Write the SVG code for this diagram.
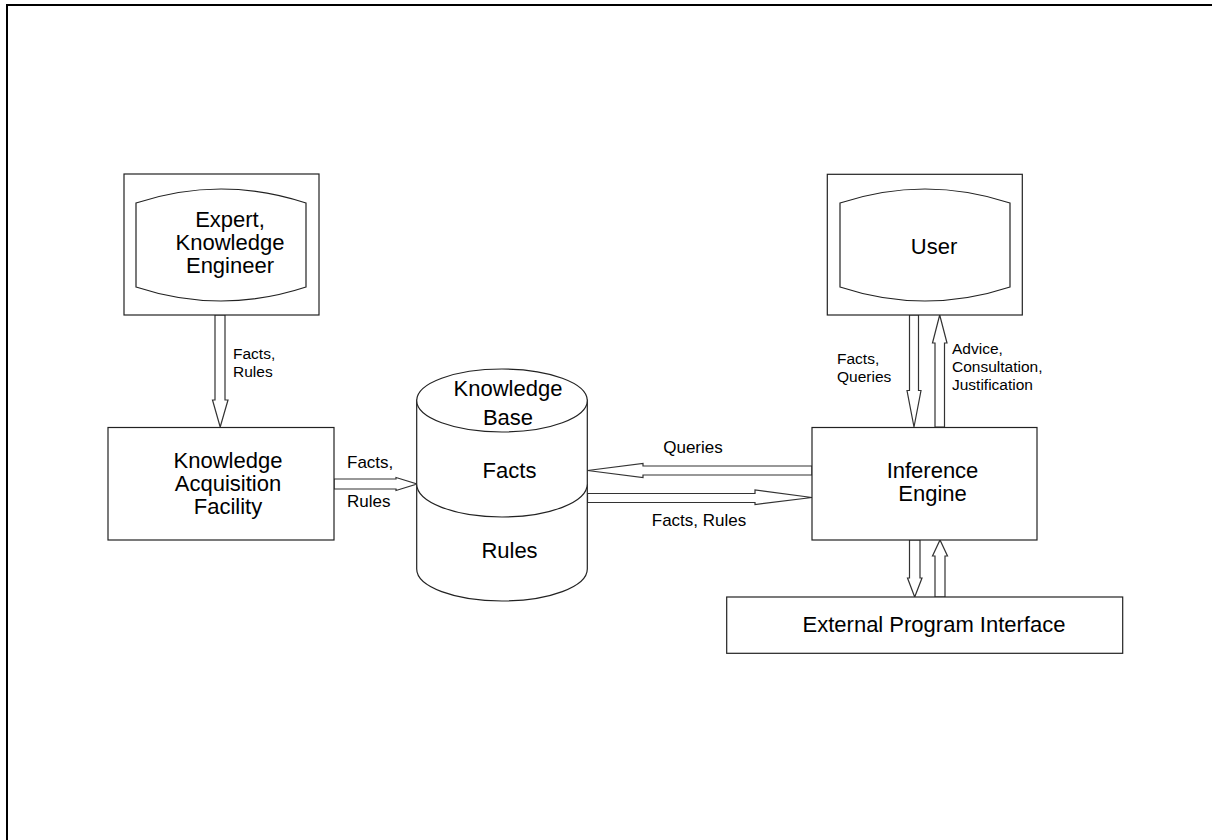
<svg xmlns="http://www.w3.org/2000/svg" width="1212" height="840" viewBox="0 0 1212 840">
<style>
.box{fill:#fff;stroke:#222;stroke-width:1.2}
.arr{fill:#fff;stroke:#333;stroke-width:1.2;stroke-linejoin:miter}
.t{font-family:"Liberation Sans",Arial,sans-serif;font-size:22px;fill:#000;text-anchor:middle}
.s{font-family:"Liberation Sans",Arial,sans-serif;font-size:17px;fill:#000}
.m{font-family:"Liberation Sans",Arial,sans-serif;font-size:15.5px;fill:#000}
</style>
<rect x="0" y="0" width="1212" height="840" fill="#fff"/>
<g id="frame">
<line x1="6" y1="5" x2="1212" y2="5" stroke="#000" stroke-width="2"/>
<line x1="7" y1="4" x2="7" y2="840" stroke="#000" stroke-width="2"/>
</g>
<g id="connectors">
<polygon class="arr" points="215,315 225,315 225,400 228,400 220.2,427 212.5,400 215,400"/>
<polygon class="arr" points="334,479 396,479 396,477.5 417,484 396,490.5 396,489 334,489"/>
<polygon class="arr" points="812,466 643,466 643,463.5 587.5,470.5 643,477.5 643,475 812,475"/>
<polygon class="arr" points="587.5,493.5 755,493.5 755,490 812,497.5 755,504.5 755,502.5 587.5,502.5"/>
<polygon class="arr" points="909.5,315 918.5,315 918.5,390.5 921,390.5 914,427 907,390.5 909.5,390.5"/>
<polygon class="arr" points="935,427 935,343 932.5,343 939.7,315 947,343 944.5,343 944.5,427"/>
<polygon class="arr" points="909.5,540 920,540 920,578 922,578 914.7,597 907.5,578 909.5,578"/>
<polygon class="arr" points="935,597 935,556 932.5,556 940,540 947.5,556 945,556 945,597"/>
<text class="m" x="233" y="358.5">Facts,</text>
<text class="m" x="233" y="376.5">Rules</text>
<text class="s" x="347" y="468">Facts,</text>
<text class="s" x="347" y="506.5">Rules</text>
<text class="s" x="693" y="452.5" text-anchor="middle">Queries</text>
<text class="s" x="699" y="526" text-anchor="middle">Facts, Rules</text>
<text class="m" x="837" y="363.5">Facts,</text>
<text class="m" x="837" y="381.5">Queries</text>
<text class="m" x="952" y="354">Advice,</text>
<text class="m" x="952" y="372">Consultation,</text>
<text class="m" x="952" y="390">Justification</text>
</g>
<g id="expert">
<rect class="box" x="124" y="174" width="195" height="141"/>
<path class="box" d="M136,203 Q221,175 306,203 L306,287 Q221,315 136,287 Z"/>
<text class="t" x="230" y="226.5">Expert,</text>
<text class="t" x="230" y="249.5">Knowledge</text>
<text class="t" x="230" y="272.5">Engineer</text>
</g>
<g id="kaf">
<rect class="box" x="108" y="427.5" width="226" height="112.5"/>
<text class="t" x="228" y="468">Knowledge</text>
<text class="t" x="228" y="491">Acquisition</text>
<text class="t" x="228" y="514">Facility</text>
</g>
<g id="kb">
<path class="box" d="M416.7,400 L416.7,569 A85.3,32 0 0 0 587.3,569 L587.3,400 Z"/>
<ellipse class="box" cx="502" cy="400.5" rx="85.3" ry="31.5"/>
<path class="box" fill="none" d="M416.7,484 A85.3,33 0 0 0 587.3,484"/>
<text class="t" x="508" y="396">Knowledge</text>
<text class="t" x="508" y="425">Base</text>
<text class="t" x="509.5" y="477.5">Facts</text>
<text class="t" x="509.5" y="557.5">Rules</text>
</g>
<g id="user">
<rect class="box" x="827.3" y="174.3" width="195" height="140.7"/>
<path class="box" d="M840,203 Q925,175 1010,203 L1010,287 Q925,315 840,287 Z"/>
<text class="t" x="934" y="253.5">User</text>
</g>
<g id="ie">
<rect class="box" x="812" y="427.5" width="225" height="112.5"/>
<text class="t" x="932.5" y="478">Inference</text>
<text class="t" x="932.5" y="501">Engine</text>
</g>
<g id="epi">
<rect class="box" x="726.7" y="597" width="396" height="56.3"/>
<text class="t" x="934" y="632">External Program Interface</text>
</g>
</svg>
